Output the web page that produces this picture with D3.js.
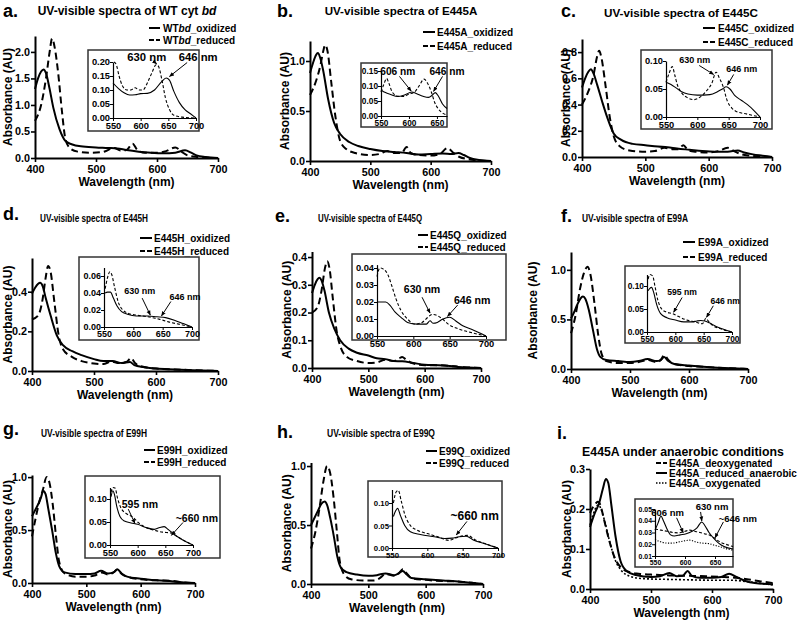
<!DOCTYPE html>
<html><head><meta charset="utf-8">
<script src="https://cdn.jsdelivr.net/npm/d3@7"></script>
<style>
body{margin:0;background:#fff}
svg{display:block;font-family:"Liberation Sans",Arial,sans-serif;font-weight:bold}
</style></head><body>
<svg id="chart" width="800" height="623"></svg>
<script>
// ---------------- DATA (wavelength nm, absorbance AU) ----------------
const aOx=[[400,1.3],[405,1.5],[410,1.63],[414,1.67],[418,1.6],[424,1.3],[430,0.95],[440,0.55],[450,0.32],[460,0.26],[475,0.22],[500,0.2],[520,0.19],[535,0.18],[550,0.15],[570,0.12],[590,0.1],[610,0.09],[630,0.1],[646,0.145],[656,0.1],[665,0.05],[680,0.02],[700,0.0]];
const aRed=[[400,0.7],[410,1.0],[418,1.5],[424,2.0],[428,2.25],[432,2.1],[438,1.6],[444,0.9],[450,0.35],[458,0.18],[470,0.12],[490,0.1],[510,0.11],[530,0.19],[540,0.14],[550,0.15],[560,0.27],[568,0.15],[580,0.1],[600,0.1],[615,0.13],[630,0.2],[640,0.12],[650,0.05],[665,0.02],[700,0.0]];
const aInOx=[[550,0.125],[560,0.105],[570,0.09],[580,0.082],[590,0.083],[600,0.087],[612,0.088],[625,0.1],[638,0.13],[646,0.143],[652,0.135],[660,0.095],[670,0.055],[680,0.03],[690,0.015],[700,0.0]];
const aInRed=[[552,0.2],[556,0.19],[561,0.15],[567,0.115],[575,0.1],[582,0.1],[590,0.108],[597,0.1],[604,0.1],[612,0.125],[620,0.16],[628,0.19],[632,0.185],[638,0.14],[645,0.07],[652,0.03],[660,0.01],[675,0.003],[700,0.0]];

const bOx=[[400,0.88],[405,0.98],[410,1.06],[413,1.08],[417,1.03],[422,0.9],[430,0.62],[440,0.38],[450,0.27],[465,0.19],[480,0.15],[500,0.12],[520,0.1],[540,0.09],[560,0.08],[580,0.065],[600,0.07],[620,0.075],[635,0.07],[646,0.08],[655,0.06],[665,0.03],[680,0.01],[700,0.0]];
const bRed=[[400,0.66],[410,0.8],[417,0.95],[422,1.1],[425,1.16],[429,1.1],[435,0.8],[442,0.45],[450,0.2],[460,0.12],[475,0.08],[500,0.06],[515,0.07],[528,0.1],[540,0.08],[552,0.08],[560,0.14],[567,0.08],[580,0.06],[600,0.055],[615,0.07],[628,0.13],[638,0.08],[648,0.04],[660,0.02],[680,0.005],[700,0.0]];
const bInOx=[[550,0.087],[558,0.078],[567,0.072],[580,0.065],[592,0.07],[605,0.08],[614,0.074],[625,0.066],[635,0.062],[642,0.07],[647,0.078],[653,0.065],[660,0.04],[668,0.025]];
const bInRed=[[550,0.08],[555,0.105],[560,0.125],[564,0.11],[570,0.08],[580,0.066],[590,0.065],[600,0.073],[610,0.08],[618,0.1],[627,0.123],[633,0.11],[640,0.08],[646,0.045],[652,0.025],[660,0.01],[668,0.003]];

const cOx=[[400,0.53],[405,0.6],[410,0.65],[414,0.67],[418,0.64],[424,0.55],[432,0.42],[440,0.3],[450,0.18],[462,0.13],[480,0.1],[500,0.09],[520,0.08],[535,0.075],[550,0.065],[570,0.055],[590,0.045],[610,0.04],[630,0.04],[646,0.05],[656,0.035],[670,0.02],[685,0.01],[700,0.0]];
const cRed=[[400,0.4],[410,0.5],[418,0.62],[424,0.77],[427,0.81],[431,0.75],[437,0.55],[444,0.3],[450,0.16],[460,0.08],[475,0.05],[500,0.04],[515,0.045],[530,0.07],[542,0.06],[552,0.06],[560,0.09],[568,0.05],[580,0.04],[600,0.035],[615,0.045],[630,0.07],[640,0.045],[652,0.02],[665,0.01],[700,0.0]];
const cInOx=[[550,0.062],[558,0.058],[566,0.052],[575,0.045],[585,0.041],[600,0.039],[620,0.04],[632,0.045],[640,0.05],[646,0.054],[652,0.05],[660,0.038],[670,0.03],[680,0.022],[690,0.012],[700,0.0]];
const cInRed=[[550,0.062],[555,0.078],[560,0.09],[564,0.075],[568,0.058],[575,0.043],[585,0.034],[595,0.031],[605,0.036],[615,0.047],[623,0.06],[630,0.08],[635,0.07],[641,0.055],[648,0.028],[655,0.016],[662,0.01],[680,0.005],[700,0.0]];

const dOx=[[400,0.39],[405,0.42],[410,0.44],[413,0.445],[417,0.43],[422,0.37],[430,0.28],[440,0.18],[450,0.13],[465,0.1],[480,0.08],[500,0.06],[515,0.05],[530,0.05],[545,0.04],[558,0.045],[565,0.03],[580,0.02],[600,0.012],[630,0.008],[660,0.004],[700,0.0]];
const dRed=[[400,0.26],[410,0.28],[417,0.36],[422,0.47],[426,0.53],[430,0.5],[436,0.35],[443,0.18],[450,0.11],[465,0.07],[480,0.05],[500,0.038],[515,0.035],[528,0.048],[540,0.04],[552,0.045],[560,0.065],[566,0.04],[575,0.025],[600,0.012],[630,0.008],[660,0.004],[700,0.0]];
const dInOx=[[552,0.04],[556,0.041],[561,0.041],[566,0.034],[572,0.025],[580,0.018],[590,0.015],[605,0.013],[625,0.013],[640,0.012],[655,0.011],[670,0.008],[685,0.004],[700,0.0]];
const dInRed=[[552,0.045],[556,0.058],[560,0.065],[563,0.062],[568,0.047],[574,0.03],[582,0.02],[592,0.016],[605,0.014],[625,0.012],[645,0.009],[660,0.006],[680,0.003],[700,0.0]];

const eOx=[[400,0.27],[405,0.3],[410,0.32],[413,0.325],[417,0.315],[422,0.28],[430,0.2],[440,0.14],[450,0.1],[465,0.07],[480,0.055],[500,0.045],[515,0.035],[530,0.032],[545,0.025],[560,0.024],[580,0.018],[600,0.012],[625,0.01],[640,0.008],[660,0.004],[700,0.0]];
const eRed=[[400,0.2],[410,0.22],[417,0.28],[423,0.36],[427,0.385],[431,0.36],[437,0.25],[444,0.13],[450,0.08],[462,0.04],[480,0.025],[500,0.018],[515,0.02],[530,0.03],[545,0.025],[555,0.035],[560,0.04],[567,0.03],[575,0.02],[600,0.01],[625,0.01],[640,0.008],[660,0.004],[700,0.0]];
const eInOx=[[550,0.02],[562,0.02],[568,0.018],[575,0.014],[583,0.011],[592,0.008],[605,0.007],[618,0.007],[623,0.009],[627,0.0075],[633,0.008],[640,0.0098],[650,0.011],[658,0.009],[668,0.006],[680,0.004],[700,0.0]];
const eInRed=[[550,0.035],[554,0.04],[560,0.039],[565,0.036],[570,0.03],[576,0.022],[583,0.015],[592,0.01],[602,0.007],[612,0.008],[620,0.011],[626,0.0127],[633,0.012],[640,0.01],[648,0.007],[660,0.0045],[680,0.002],[700,0.0]];

const fOx=[[400,0.51],[405,0.57],[410,0.64],[416,0.71],[420,0.73],[424,0.71],[430,0.6],[437,0.4],[444,0.2],[450,0.12],[460,0.09],[480,0.08],[500,0.07],[515,0.08],[530,0.1],[545,0.08],[552,0.09],[558,0.12],[565,0.08],[575,0.05],[600,0.035],[630,0.02],[660,0.01],[700,0.0]];
const fRed=[[400,0.36],[408,0.55],[415,0.8],[422,0.97],[428,1.03],[433,0.95],[440,0.65],[446,0.35],[452,0.15],[460,0.08],[480,0.06],[500,0.06],[515,0.07],[530,0.09],[545,0.07],[552,0.09],[558,0.14],[565,0.09],[575,0.05],[600,0.03],[630,0.02],[660,0.01],[700,0.0]];
const fInOx=[[552,0.09],[555,0.095],[558,0.097],[562,0.085],[567,0.06],[574,0.04],[585,0.031],[600,0.026],[615,0.022],[630,0.022],[638,0.024],[645,0.025],[652,0.024],[660,0.02],[672,0.012],[685,0.006],[700,0.0]];
const fInRed=[[552,0.115],[555,0.125],[560,0.122],[564,0.1],[569,0.07],[576,0.05],[585,0.043],[595,0.04],[605,0.034],[620,0.026],[635,0.022],[648,0.018],[654,0.03],[658,0.024],[665,0.015],[680,0.007],[700,0.0]];

const gOx=[[400,0.63],[405,0.68],[410,0.73],[416,0.8],[421,0.87],[425,0.84],[430,0.7],[437,0.5],[444,0.28],[450,0.16],[460,0.1],[480,0.085],[500,0.085],[515,0.09],[527,0.115],[540,0.09],[550,0.1],[557,0.13],[565,0.09],[575,0.06],[600,0.04],[630,0.025],[660,0.015],[680,0.005],[700,0.0]];
const gRed=[[400,0.44],[407,0.62],[414,0.78],[420,0.88],[427,1.0],[432,0.95],[438,0.75],[444,0.45],[450,0.2],[460,0.09],[480,0.06],[500,0.06],[515,0.07],[528,0.1],[540,0.08],[550,0.1],[557,0.125],[565,0.085],[575,0.06],[600,0.035],[630,0.025],[660,0.018],[680,0.005],[700,0.0]];
const gInOx=[[552,0.105],[555,0.118],[558,0.11],[562,0.085],[568,0.062],[576,0.052],[588,0.048],[600,0.045],[615,0.038],[630,0.034],[640,0.038],[648,0.04],[655,0.034],[665,0.024],[680,0.012],[700,0.0]];
const gInRed=[[552,0.115],[555,0.125],[559,0.124],[564,0.1],[570,0.08],[580,0.068],[592,0.06],[602,0.048],[615,0.038],[630,0.032],[645,0.028],[660,0.026],[672,0.018],[685,0.009],[700,0.0]];

const hOx=[[400,0.5],[406,0.56],[412,0.62],[418,0.68],[424,0.7],[428,0.67],[434,0.55],[440,0.4],[446,0.23],[452,0.14],[462,0.1],[480,0.08],[500,0.07],[515,0.075],[530,0.09],[545,0.075],[553,0.09],[560,0.11],[567,0.08],[575,0.05],[600,0.04],[630,0.03],[660,0.02],[680,0.01],[700,0.0]];
const hRed=[[400,0.3],[408,0.45],[415,0.65],[422,0.88],[428,1.0],[433,0.95],[439,0.75],[445,0.45],[450,0.2],[458,0.08],[470,0.04],[490,0.03],[510,0.03],[520,0.05],[530,0.085],[545,0.07],[553,0.09],[560,0.125],[567,0.09],[575,0.05],[600,0.035],[630,0.025],[660,0.02],[680,0.01],[700,0.0]];
const hInOx=[[552,0.07],[555,0.082],[558,0.088],[562,0.072],[568,0.05],[576,0.036],[590,0.03],[610,0.025],[625,0.021],[635,0.022],[645,0.025],[655,0.026],[665,0.018],[680,0.01],[700,0.0]];
const hInRed=[[552,0.1],[556,0.125],[559,0.128],[563,0.105],[568,0.075],[576,0.05],[585,0.04],[600,0.032],[615,0.025],[630,0.017],[640,0.022],[650,0.027],[657,0.028],[668,0.018],[685,0.008],[700,0.0]];

const iDeoxy=[[400,0.19],[405,0.205],[410,0.215],[413,0.218],[417,0.21],[422,0.18],[430,0.13],[440,0.08],[450,0.055],[465,0.042],[480,0.038],[500,0.036],[530,0.034],[560,0.033],[590,0.032],[620,0.03],[640,0.028],[660,0.024],[680,0.019],[700,0.015]];
const iRedAn=[[400,0.155],[408,0.19],[415,0.215],[421,0.25],[426,0.275],[430,0.265],[435,0.21],[442,0.13],[450,0.07],[460,0.045],[475,0.035],[500,0.03],[515,0.032],[530,0.04],[542,0.032],[552,0.033],[560,0.045],[567,0.033],[580,0.028],[600,0.028],[615,0.03],[628,0.038],[640,0.03],[655,0.02],[670,0.015],[700,0.012]];
const iOxy=[[400,0.16],[405,0.185],[410,0.205],[414,0.21],[418,0.2],[424,0.17],[432,0.12],[442,0.07],[452,0.045],[465,0.032],[480,0.027],[500,0.025],[530,0.024],[560,0.023],[600,0.022],[630,0.022],[660,0.018],[680,0.014],[700,0.01]];
const iInDeoxy=[[550,0.033],[560,0.032],[570,0.031],[580,0.03],[590,0.0297],[600,0.031],[608,0.032],[620,0.0306],[632,0.029],[642,0.0275],[650,0.025],[658,0.022],[668,0.02],[680,0.018]];
const iInRedAn=[[550,0.032],[555,0.038],[560,0.044],[564,0.04],[570,0.033],[576,0.028],[582,0.027],[592,0.028],[602,0.029],[612,0.031],[620,0.034],[628,0.039],[633,0.036],[640,0.03],[648,0.025],[656,0.021],[665,0.018],[680,0.016]];
const iInOxy=[[550,0.024],[560,0.022],[570,0.021],[580,0.021],[590,0.022],[600,0.023],[608,0.0235],[618,0.022],[628,0.021],[640,0.0205],[650,0.019],[660,0.0177],[670,0.016],[680,0.015]];

// tick values
const xTicksMain=[400,500,600,700];
const xTicksInset=[550,600,650,700];
const xTicksInsetShort=[550,600,650];

// ---------------- LAYOUT ----------------
const panels=[
 {letter:'a.',lx:3,ly:17,title:'UV-visible spectra of WT cyt *bd*',tx:127,ty:15,ts:12,
  plot:[35,218,158,36],ymax:2.3,yt:[0,0.5,1,1.5,2],ylx:8,
  leg:{x1:149,x2:160,tx:163,ys:[28,40]},
  series:[{d:aOx,s:'solid',n:'WT*bd*_oxidized'},{d:aRed,s:'dashed',n:'WT*bd*_reduced'}],
  ins:{box:[88,50,199,131],x:[113,196],xd:[550,700],y:[118,62],yd:[0,0.2],xt:xTicksInset,yt:[0,0.05,0.1,0.15,0.2],fs:9.3,
   s:[{d:aInOx,s:'solid'},{d:aInRed,s:'dashed'}],afs:11.3,
   ann:[{t:'630 nm',tx:611,ty:0.218,x1:622,y1:0.205,x2:629,y2:0.193},{t:'646 nm',tx:704,ty:0.218,x1:684,y1:0.198,x2:652,y2:0.148}]}},
 {letter:'b.',lx:277,ly:17,title:'UV-visible spectra of E445A',tx:401,ty:15,ts:11.6,
  plot:[310,491,161,41],ymax:1.2,yt:[0,0.5,1],ylx:285,
  leg:{x1:423,x2:435,tx:437,ys:[32,46]},
  series:[{d:bOx,s:'solid',n:'E445A_oxidized'},{d:bRed,s:'dashed',n:'E445A_reduced'}],
  ins:{box:[361,63,447,127],x:[381,447],xd:[550,668],y:[116,71],yd:[0,0.15],xt:xTicksInsetShort,yt:[0,0.05,0.1,0.15],fs:8.3,
   s:[{d:bInOx,s:'solid'},{d:bInRed,s:'dashed'}],afs:10.2,
   ann:[{t:'606 nm',tx:580,ty:0.147,x1:583,y1:0.132,x2:604,y2:0.083},{t:'646 nm',tx:668,ty:0.147,x1:660,y1:0.132,x2:644,y2:0.082}]}},
 {letter:'c.',lx:561,ly:17,title:'UV-visible spectra of E445C',tx:681,ty:17,ts:11.7,
  plot:[582,772,157,39],ymax:0.9,yt:[0,0.2,0.4,0.6,0.8],ylx:566,
  leg:{x1:703,x2:715,tx:718,ys:[28,42]},
  series:[{d:cOx,s:'solid',n:'E445C_oxidized'},{d:cRed,s:'dashed',n:'E445C_reduced'}],
  ins:{box:[641,50,772,129],x:[666,760],xd:[550,700],y:[117,61],yd:[0,0.1],xt:xTicksInset,yt:[0,0.05,0.1],fs:9.3,
   s:[{d:cInOx,s:'solid'},{d:cInRed,s:'dashed'}],afs:9,
   ann:[{t:'630 nm',tx:596,ty:0.102,x1:603,y1:0.092,x2:626,y2:0.076},{t:'646 nm',tx:671,ty:0.086,x1:658,y1:0.076,x2:648,y2:0.057}]}},
 {letter:'d.',lx:3,ly:220,title:'UV-visible spectra of E445H',tx:94,ty:222,ts:10.6,tw:108,
  plot:[32,218,371,258],ymax:0.57,yt:[0,0.2,0.4],ylx:8,
  leg:{x1:140,x2:152,tx:154,ys:[238,251]},
  series:[{d:dOx,s:'solid',n:'E445H_oxidized'},{d:dRed,s:'dashed',n:'E445H_reduced'}],
  ins:{box:[79,257,199,340],x:[104,192],xd:[550,700],y:[327,267.5],yd:[0,0.07],xt:xTicksInset,yt:[0,0.02,0.04,0.06],fs:9,
   s:[{d:dInOx,s:'solid'},{d:dInRed,s:'dashed'}],afs:9,
   ann:[{t:'630 nm',tx:611,ty:0.042,x1:615,y1:0.034,x2:629,y2:0.014},{t:'646 nm',tx:688,ty:0.035,x1:664,y1:0.03,x2:648,y2:0.013}]}},
 {letter:'e.',lx:275,ly:222,title:'UV-visible spectra of E445Q',tx:370,ty:222,ts:10.6,tw:104,
  plot:[312,481,368,251.5],ymax:0.42,yt:[0,0.1,0.2,0.3,0.4],ylx:287,
  leg:{x1:418,x2:428,tx:430,ys:[235,247]},
  series:[{d:eOx,s:'solid',n:'E445Q_oxidized'},{d:eRed,s:'dashed',n:'E445Q_reduced'}],
  ins:{box:[352,254,506,340],x:[377,486],xd:[550,700],y:[336,264.6],yd:[0,0.042],xt:xTicksInset,yt:[0,0.01,0.02,0.03,0.04],fs:9.3,
   s:[{d:eInOx,s:'solid'},{d:eInRed,s:'dashed'}],afs:10.6,
   ann:[{t:'630 nm',tx:612,ty:0.0276,x1:612,y1:0.0228,x2:623,y2:0.0135},{t:'646 nm',tx:681,ty:0.021,x1:661,y1:0.0182,x2:647,y2:0.0115}]}},
 {letter:'f.',lx:561,ly:222,title:'UV-visible spectra of E99A',tx:635,ty:222,ts:10.6,tw:106,
  plot:[571,748,369,252],ymax:1.18,yt:[0,0.5,1],ylx:533,
  leg:{x1:683,x2:695,tx:698,ys:[242,257]},
  series:[{d:fOx,s:'solid',n:'E99A_oxidized'},{d:fRed,s:'dashed',n:'E99A_reduced'}],
  ins:{box:[625,266,740,343],x:[647,732],xd:[550,700],y:[332,274.5],yd:[0,0.125],xt:xTicksInset,yt:[0,0.05,0.1],fs:8.4,
   s:[{d:fInOx,s:'solid'},{d:fInRed,s:'dashed'}],afs:8.6,
   ann:[{t:'595 nm',tx:612,ty:0.087,x1:612,y1:0.075,x2:597,y2:0.043},{t:'646 nm',tx:688,ty:0.067,x1:667,y1:0.057,x2:655,y2:0.032}]}},
 {letter:'g.',lx:3,ly:435,title:'UV-visible spectra of E99H',tx:94,ty:437,ts:10.6,tw:106,
  plot:[32,195,583,475],ymax:1.02,yt:[0,0.5,1],ylx:8,
  leg:{x1:144,x2:155,tx:157,ys:[450,462]},
  series:[{d:gOx,s:'solid',n:'E99H_oxidized'},{d:gRed,s:'dashed',n:'E99H_reduced'}],
  ins:{box:[85,476,220,558],x:[110,193],xd:[550,700],y:[545,487.5],yd:[0,0.125],xt:xTicksInset,yt:[0,0.05,0.1],fs:9.3,
   s:[{d:gInOx,s:'solid'},{d:gInRed,s:'dashed'}],afs:10.5,
   ann:[{t:'595 nm',tx:604,ty:0.089,x1:583,y1:0.078,x2:595,y2:0.047},{t:'~660 nm',tx:707,ty:0.059,x1:682,y1:0.049,x2:661,y2:0.021}]}},
 {letter:'h.',lx:277,ly:438,title:'UV-visible spectra of E99Q',tx:381,ty:437,ts:10.6,tw:108,
  plot:[311,483,584,462.5],ymax:1.03,yt:[0,0.5,1],ylx:287,
  leg:{x1:426,x2:437,tx:439,ys:[451,463]},
  series:[{d:hOx,s:'solid',n:'E99Q_oxidized'},{d:hRed,s:'dashed',n:'E99Q_reduced'}],
  ins:{box:[368,481,502,557],x:[392,498],xd:[550,700],y:[548,489.5],yd:[0,0.13],xt:xTicksInset,yt:[0,0.05,0.1],fs:7.8,
   s:[{d:hInOx,s:'solid'},{d:hInRed,s:'dashed'}],afs:12,
   ann:[{t:'~660 nm',tx:667,ty:0.071,x1:656,y1:0.059,x2:641,y2:0.029}]}},
 {letter:'i.',lx:557,ly:439,title:'E445A under anaerobic conditions',tx:683,ty:456,ts:12.3,
  plot:[590,773,589,469],ymax:0.3,yt:[0,0.1,0.2,0.3],ylx:567,
  leg:{x1:656,x2:667,tx:669,ys:[463,473,483]},
  series:[{d:iDeoxy,s:'dashed',n:'E445A_deoxygenated'},{d:iRedAn,s:'solid',n:'E445A_reduced_anaerobic'},{d:iOxy,s:'dotted',n:'E445A_oxygenated'}],
  ins:{box:[635,499,733,567],x:[655,733],xd:[550,680],y:[556,509],yd:[0.01,0.05],xt:xTicksInsetShort,yt:[0.01,0.02,0.03,0.04,0.05],fs:6.9,
   s:[{d:iInDeoxy,s:'dashed'},{d:iInRedAn,s:'solid'},{d:iInOxy,s:'dotted'}],afs:9.5,
   ann:[{t:'606 nm',tx:571,ty:0.0466,x1:586,y1:0.0425,x2:597,y2:0.0298},{t:'630 nm',tx:645,ty:0.0517,x1:626,y1:0.0475,x2:628,y2:0.0398},{t:'~646 nm',tx:688,ty:0.042,x1:664,y1:0.039,x2:650,y2:0.0255}]}}
];

// ---------------- DRAW ----------------
const svg=d3.select('#chart');
svg.append('rect').attr('width',800).attr('height',623).attr('fill','#fff');
svg.append('defs').append('marker').attr('id','arr').attr('viewBox','0 0 10 10')
  .attr('refX',9).attr('refY',5).attr('markerWidth',5).attr('markerHeight',5).attr('orient','auto')
  .append('path').attr('d','M0,1L10,5L0,9z').attr('fill','#000');

const DASH={solid:null,dashed:'7,4',dotted:'2,2'};
const IDASH={solid:null,dashed:'3,2',dotted:'1.2,1.5'};

function richText(sel,str){
  str.split('*').forEach((part,i)=>{
    if(!part) return;
    sel.append('tspan').text(part).attr('font-style',i%2?'italic':null);
  });
}

panels.forEach(p=>{
  const g=svg.append('g');
  const [px0,px1,py0,py1]=p.plot;
  const x=d3.scaleLinear().domain([400,700]).range([px0,px1]);
  const y=d3.scaleLinear().domain([0,p.ymax]).range([py0,py1]);

  // letter + title
  g.append('text').attr('x',p.lx).attr('y',p.ly).attr('font-size',18).text(p.letter);
  const tt=g.append('text').attr('x',p.tx).attr('y',p.ty).attr('font-size',p.ts).attr('text-anchor','middle');
  richText(tt,p.title);
  if(p.tw) tt.attr('textLength',p.tw).attr('lengthAdjust','spacingAndGlyphs');

  // axes
  const xa=g.append('g').attr('transform',`translate(0,${py0})`)
    .call(d3.axisBottom(x).tickValues(xTicksMain).tickSize(4).tickSizeOuter(0).tickFormat(d3.format('d')));
  const ya=g.append('g').attr('transform',`translate(${px0},0)`)
    .call(d3.axisLeft(y).tickValues(p.yt).tickSize(4).tickSizeOuter(0).tickFormat(d3.format('.1f')));
  [xa,ya].forEach(a=>{
    a.select('.domain').attr('stroke','#000').attr('stroke-width',2);
    a.selectAll('.tick line').attr('stroke','#000').attr('stroke-width',1.6);
    a.selectAll('.tick text').attr('fill','#000').attr('font-size',10.8).attr('font-family','"Liberation Sans",Arial,sans-serif').attr('font-weight','bold');
  });
  ya.selectAll('.tick text').attr('x',-5);

  g.append('text').attr('x',(px0+px1)/2).attr('y',py0+28).attr('text-anchor','middle').attr('font-size',12).text('Wavelength (nm)');
  g.append('text').attr('transform',`translate(${p.ylx},${(py0+py1)/2}) rotate(-90)`).attr('dy','0.35em')
    .attr('text-anchor','middle').attr('font-size',12).text('Absorbance (AU)');

  // curves
  const line=d3.line().x(d=>x(d[0])).y(d=>y(d[1])).curve(d3.curveMonotoneX);
  p.series.forEach(s=>{
    g.append('path').datum(s.d).attr('d',line).attr('fill','none').attr('stroke','#000')
      .attr('stroke-width',s.s==='dotted'?1.6:2).attr('stroke-dasharray',DASH[s.s]).attr('stroke-linejoin','round');
  });

  // legend
  p.series.forEach((s,i)=>{
    const yy=p.leg.ys[i];
    g.append('line').attr('x1',p.leg.x1).attr('x2',p.leg.x2).attr('y1',yy).attr('y2',yy)
      .attr('stroke','#000').attr('stroke-width',s.s==='dotted'?1.5:2)
      .attr('stroke-dasharray',s.s==='dashed'?'5,2':(s.s==='dotted'?'1.5,1.5':null));
    const t=g.append('text').attr('x',p.leg.tx).attr('y',yy).attr('dy','0.35em').attr('font-size',10);
    richText(t,s.n);
  });

  // inset
  const ins=p.ins;
  const [bx0,by0,bx1,by1]=ins.box;
  g.append('rect').attr('x',bx0).attr('y',by0).attr('width',bx1-bx0).attr('height',by1-by0)
    .attr('fill','#fff').attr('stroke','#333').attr('stroke-width',1.5);
  const ix=d3.scaleLinear().domain(ins.xd).range(ins.x);
  const iy=d3.scaleLinear().domain(ins.yd).range(ins.y);
  const ixa=g.append('g').attr('transform',`translate(0,${ins.y[0]})`)
    .call(d3.axisBottom(ix).tickValues(ins.xt).tickSize(3).tickSizeOuter(0).tickFormat(d3.format('d')));
  const iya=g.append('g').attr('transform',`translate(${ins.x[0]},0)`)
    .call(d3.axisLeft(iy).tickValues(ins.yt).tickSize(3).tickSizeOuter(0).tickFormat(d3.format('.2f')));
  [ixa,iya].forEach(a=>{
    a.select('.domain').attr('stroke','#000').attr('stroke-width',1.2);
    a.selectAll('.tick line').attr('stroke','#000').attr('stroke-width',1);
    a.selectAll('.tick text').attr('fill','#000').attr('font-size',ins.fs).attr('font-family','"Liberation Sans",Arial,sans-serif').attr('font-weight','bold');
  });
  ixa.selectAll('.tick text').attr('y',4);
  iya.selectAll('.tick text').attr('x',-3);
  const iline=d3.line().x(d=>ix(d[0])).y(d=>iy(d[1])).curve(d3.curveMonotoneX);
  ins.s.forEach(s=>{
    g.append('path').datum(s.d).attr('d',iline).attr('fill','none').attr('stroke','#000')
      .attr('stroke-width',1.1).attr('stroke-dasharray',IDASH[s.s]);
  });
  ins.ann.forEach(a=>{
    g.append('line').attr('x1',ix(a.x1)).attr('y1',iy(a.y1)).attr('x2',ix(a.x2)).attr('y2',iy(a.y2))
      .attr('stroke','#000').attr('stroke-width',1).attr('marker-end','url(#arr)');
    g.append('text').attr('x',ix(a.tx)).attr('y',iy(a.ty)).attr('dy','0.35em').attr('text-anchor','middle')
      .attr('font-size',ins.afs).text(a.t);
  });
});
</script>
</body></html>
